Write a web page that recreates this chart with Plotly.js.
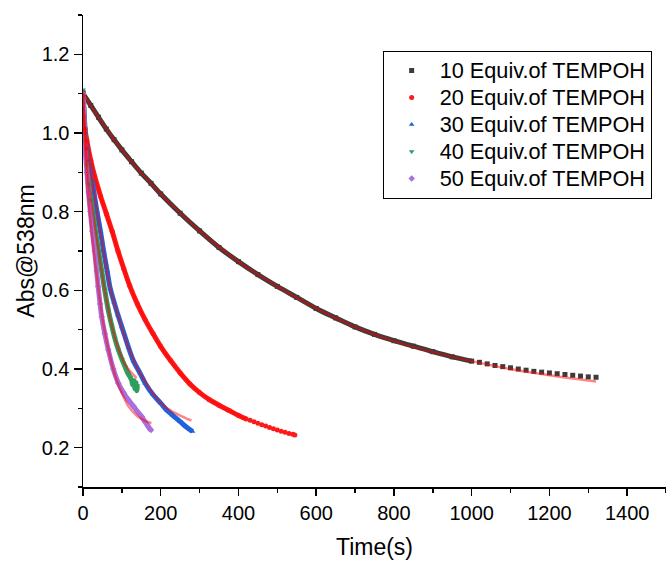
<!DOCTYPE html>
<html>
<head>
<meta charset="utf-8">
<script src="https://cdn.plot.ly/plotly-3.0.1.min.js"></script>
<style>html,body{margin:0;padding:0;background:#fff;}#chart{width:666px;height:563px;}</style>
</head>
<body>
<div id="chart"></div>
<script>
// ---- Series names ----
const seriesNames = ["10 Equiv.of TEMPOH", "20 Equiv.of TEMPOH", "30 Equiv.of TEMPOH", "40 Equiv.of TEMPOH", "50 Equiv.of TEMPOH"];

// ---- 10 Equiv (data) ----
const t10 = [0,20,40,60,80,100,125,150,175,200,250,300,350,400,450,500,550,600,650,700,750,800,850,900,950,1000,
             1020,1040,1060,1080,1100,1120,1140,1160,1180,1200,1220,1240,1260,1280,1300,1320];
const a10 = [1.100,1.070,1.040,1.010,0.983,0.957,0.927,0.898,0.872,0.845,0.796,0.751,0.709,0.673,0.640,0.610,0.582,0.554,0.530,0.507,0.488,0.472,0.458,0.444,0.431,0.420,
             0.417,0.413,0.409,0.406,0.403,0.400,0.397,0.394,0.392,0.390,0.388,0.386,0.384,0.382,0.380,0.379];
const dense10 = 1000;
// ---- 10 Equiv (fit) ----
const ft10 = [0,100,200,300,400,500,600,700,800,900,1000,1100,1200,1320];
const fa10 = [1.100,0.957,0.845,0.751,0.673,0.610,0.554,0.507,0.471,0.443,0.420,0.400,0.384,0.368];

// ---- 20 Equiv (data) ----
const t20 = [0,5,10,20,30,45,60,75,90,105,120,140,160,180,200,225,250,275,300,325,350,375,400,420,
             430,440,450,460,470,480,490,500,510,520,530,540,545];
const a20 = [1.040,1.010,0.980,0.930,0.890,0.840,0.795,0.750,0.700,0.655,0.612,0.565,0.525,0.490,0.457,0.422,0.390,0.362,0.340,0.322,0.308,0.295,0.282,0.273,
             0.270,0.266,0.262,0.258,0.255,0.251,0.248,0.245,0.242,0.239,0.236,0.234,0.232];
const dense20 = 420;
// ---- 20 Equiv (fit) ----
const ft20 = [0,30,60,90,120,160,200,250,300,350,400,420];
const fa20 = [1.040,0.890,0.795,0.700,0.612,0.525,0.457,0.390,0.340,0.308,0.282,0.273];

// ---- 30 Equiv (data) ----
const t30 = [0,3,6,10,15,20,28,36,45,53,62,70,80,90,100,117,130,147,160,180,200,215,230,250,265,282];
const a30 = [1.100,1.050,1.000,0.960,0.930,0.900,0.850,0.800,0.750,0.700,0.650,0.605,0.570,0.537,0.507,0.455,0.420,0.389,0.364,0.335,0.313,0.296,0.283,0.266,0.253,0.241];
// ---- 30 Equiv (fit) ----
const ft30 = [0,10,20,36,53,70,90,117,147,180,211,245,279];
const fa30 = [1.100,0.960,0.900,0.800,0.700,0.605,0.537,0.455,0.389,0.338,0.304,0.284,0.269];

// ---- 40 Equiv (data) ----
const t40 = [0,3,6,10,15,20,25,32,40,48,56,65,74,82,91,100,108,115,122,125,128,131,134,136,138,140];
const a40 = [1.110,1.040,0.980,0.920,0.870,0.830,0.800,0.750,0.700,0.650,0.600,0.550,0.510,0.478,0.449,0.425,0.406,0.390,0.378,0.372,0.360,0.370,0.350,0.365,0.345,0.358];
// ---- 40 Equiv (fit) ----
const ft40 = [0,10,25,40,56,74,91,108,125,138];
const fa40 = [1.110,0.920,0.800,0.700,0.600,0.510,0.452,0.412,0.390,0.377];

// ---- 50 Equiv (data) ----
const t50 = [0,2,5,10,14,19,24,30,35,39,44,48,56,65,78,91,104,117,130,140,151,160,167,172,175];
const a50 = [1.100,1.050,0.970,0.900,0.850,0.800,0.750,0.700,0.650,0.610,0.565,0.533,0.490,0.449,0.400,0.364,0.340,0.321,0.305,0.292,0.279,0.265,0.255,0.248,0.245];
// ---- 50 Equiv (fit) ----
const ft50 = [0,10,20,30,40,50,60,70,82,95,117,140,160,176];
const fa50 = [1.100,0.880,0.770,0.680,0.600,0.530,0.475,0.430,0.385,0.350,0.305,0.280,0.268,0.262];

// ---- styling ----
const colors = ["#3c3c3c", "#ff1a1a", "#1f63db", "#2e9e5e", "#a86fe0"];
const symbols = ["square", "circle", "triangle-up", "triangle-down", "diamond"];
const fitColor = "rgba(255,0,0,0.48)";

const dataT = [t10, t20, t30, t40, t50];
const dataA = [a10, a20, a30, a40, a50];
const denseLimit = [dense10, dense20, Infinity, Infinity, Infinity];
const fitT = [ft10, ft20, ft30, ft40, ft50];
const fitA = [fa10, fa20, fa30, fa40, fa50];

const traces = [];
// dense bands (continuous runs of overlapping markers)
for (let i = 0; i < 5; i++) {
  const bx = [], by = [];
  dataT[i].forEach((t, k) => { if (t <= denseLimit[i]) { bx.push(t); by.push(dataA[i][k]); } });
  traces.push({x: bx, y: by, mode: "lines", line: {color: colors[i], width: 5, shape: "spline"},
               showlegend: false, hoverinfo: "skip"});
}
// markers
for (let i = 0; i < 5; i++) {
  traces.push({x: dataT[i], y: dataA[i], mode: "markers",
               name: '<span style="font-size:21.7px">' + seriesNames[i] + '</span>',
               marker: {color: colors[i], symbol: symbols[i], size: 5, line: {width: 0}}});
}
// fitted curves
for (let i = 0; i < 5; i++) {
  traces.push({x: fitT[i], y: fitA[i], mode: "lines", line: {color: fitColor, width: 2.5, shape: "spline"},
               showlegend: false, hoverinfo: "skip"});
}

const font = "Liberation Sans, Arial, sans-serif";
const layout = {
  width: 666, height: 563,
  margin: {l: 83, r: 0, t: 15, b: 76, pad: 0},
  paper_bgcolor: "#ffffff", plot_bgcolor: "#ffffff",
  font: {family: font, color: "#000"},
  showlegend: true,
  xaxis: {
    range: [0, 1500], showgrid: false, zeroline: false,
    showline: true, linecolor: "#000", linewidth: 1.5,
    ticks: "outside", ticklen: 7, tickwidth: 1.5, tickcolor: "#000",
    tick0: 0, dtick: 200,
    minor: {ticks: "outside", ticklen: 4, tickwidth: 1.5, tickcolor: "#000", dtick: 100, showgrid: false},
    tickfont: {size: 20, family: font, color: "#000"},
    title: {text: "Time(s)", font: {size: 23, family: font, color: "#000"}, standoff: 16}
  },
  yaxis: {
    range: [0.1, 1.3], showgrid: false, zeroline: false,
    showline: true, linecolor: "#000", linewidth: 1.5,
    ticks: "outside", ticklen: 8, tickwidth: 1.5, tickcolor: "#000",
    tick0: 0.2, dtick: 0.2, tickformat: ".1f",
    minor: {ticks: "outside", ticklen: 4, tickwidth: 1.5, tickcolor: "#000", dtick: 0.1, showgrid: false},
    tickfont: {size: 20, family: font, color: "#000"},
    title: {text: "Abs@538nm", font: {size: 23, family: font, color: "#000"}, standoff: 0}
  },
  legend: {
    x: 0.514, y: 0.924, xanchor: "left", yanchor: "top",
    bgcolor: "#ffffff", bordercolor: "#000", borderwidth: 1,
    font: {size: 18.5, family: font, color: "#000"},
    itemwidth: 46, tracegroupgap: 0
  }
};

Plotly.newPlot("chart", traces, layout, {displayModeBar: false, staticPlot: true});
</script>
</body>
</html>
